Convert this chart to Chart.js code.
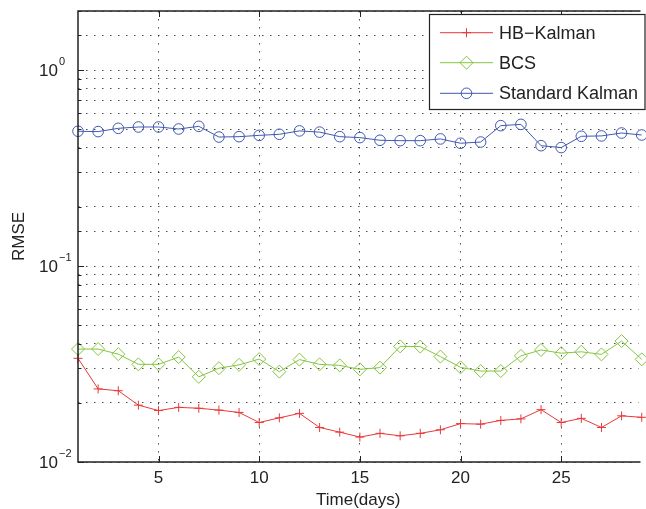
<!DOCTYPE html>
<html><head><meta charset="utf-8">
<script src="https://cdn.jsdelivr.net/npm/chart.js@4/dist/chart.umd.min.js"></script>
<style>html,body{margin:0;padding:0;background:#fff;overflow:hidden}canvas{display:block}</style>
</head><body>
<canvas id="c" width="646" height="509"></canvas>
<script>
const days = [1,2,3,4,5,6,7,8,9,10,11,12,13,14,15,16,17,18,19,20,21,22,23,24,25,26,27,28,29];
const hbKalman = [0.0338,0.0236,0.0231,0.0195,0.0183,0.0190,0.0188,0.0184,0.0179,0.0159,0.0168,0.0177,0.0150,0.0142,0.0134,0.0140,0.0136,0.0140,0.0146,0.0157,0.0156,0.0163,0.0166,0.0185,0.0159,0.0167,0.0150,0.0172,0.0169];
const bcs = [0.0377,0.0377,0.0355,0.0315,0.0315,0.0343,0.0272,0.0301,0.0313,0.0335,0.0289,0.0333,0.0315,0.0311,0.0297,0.0303,0.0389,0.0388,0.0345,0.0304,0.0291,0.0291,0.0348,0.0373,0.0359,0.0365,0.0354,0.0414,0.0334];
const standardKalman = [0.487,0.485,0.504,0.512,0.512,0.500,0.516,0.455,0.457,0.464,0.470,0.489,0.482,0.457,0.452,0.438,0.436,0.436,0.445,0.423,0.429,0.520,0.528,0.411,0.402,0.459,0.461,0.477,0.466];
const seriesNames = ['HB\u2212Kalman','BCS','Standard Kalman'];
const xTickValues = [5,10,15,20,25];
const yDecadeValues = [0.01,0.1,1];
const yDecadeExponents = ['\u22122','\u22121','0'];
const xTitle = 'Time(days)';
const yTitle = 'RMSE';

const FONT = "'Liberation Sans', Arial, Helvetica, sans-serif";
const AXIS = '#222';

function series(name, values, color, style, radius) {
  return {
    label: name,
    data: days.map((d, i) => ({x: d, y: values[i]})),
    borderColor: color, backgroundColor: 'rgba(0,0,0,0)',
    pointBorderColor: color, pointBackgroundColor: 'rgba(0,0,0,0)',
    borderWidth: 1, pointBorderWidth: 1,
    pointStyle: style, pointRadius: radius, pointHoverRadius: radius,
    tension: 0, clip: false
  };
}
const datasets = [
  series(seriesNames[0], hbKalman, '#e8393a', 'cross', 4.5),
  series(seriesNames[1], bcs, '#85c440', 'rectRot', 6.5),
  series(seriesNames[2], standardKalman, '#4058b0', 'circle', 5.3)
];

const decorations = {
  id: 'decorations',
  afterDatasetsDraw(chart) {
    const {ctx, chartArea: a, scales: {x, y}} = chart;
    ctx.save();
    // inward tick marks
    ctx.strokeStyle = AXIS; ctx.lineWidth = 1;
    ctx.beginPath();
    xTickValues.forEach(v => {
      const px = Math.round(x.getPixelForValue(v)) + 0.5;
      ctx.moveTo(px, a.bottom); ctx.lineTo(px, a.bottom - 6);
      ctx.moveTo(px, a.top); ctx.lineTo(px, a.top + 6);
    });
    y.ticks.forEach(t => {
      const py = Math.round(y.getPixelForValue(t.value)) + 0.5;
      const major = yDecadeValues.includes(t.value);
      ctx.moveTo(a.left, py); ctx.lineTo(a.left + (major ? 6 : 3.5), py);
    });
    ctx.stroke();
    // axis box (left, top, bottom)
    ctx.lineWidth = 1.5;
    ctx.beginPath();
    ctx.moveTo(a.right + 2, a.top); ctx.lineTo(a.left, a.top);
    ctx.lineTo(a.left, a.bottom); ctx.lineTo(a.right + 2, a.bottom);
    ctx.stroke();
    // y decade labels with superscripts
    ctx.fillStyle = '#222';
    ctx.textBaseline = 'middle';
    yDecadeValues.forEach((v, i) => {
      const py = y.getPixelForValue(v);
      ctx.font = '17px ' + FONT;
      ctx.textAlign = 'right';
      ctx.fillText('10', 58, py + 1);
      ctx.font = '11px ' + FONT;
      ctx.textAlign = 'left';
      ctx.fillText(yDecadeExponents[i], 59, py - 8);
    });
    // legend
    const L = {x0: 429.5, y0: 14.5, x1: 645, y1: 109.5};
    ctx.fillStyle = '#fff';
    ctx.fillRect(L.x0, L.y0, L.x1 - L.x0, L.y1 - L.y0);
    ctx.strokeStyle = AXIS; ctx.lineWidth = 1.2;
    ctx.strokeRect(L.x0, L.y0, L.x1 - L.x0, L.y1 - L.y0);
    const rows = [32.7, 62.7, 93.3];
    chart.data.datasets.forEach((ds, i) => {
      const ry = rows[i];
      ctx.strokeStyle = ds.borderColor; ctx.lineWidth = 1;
      ctx.beginPath(); ctx.moveTo(440, ry); ctx.lineTo(493, ry); ctx.stroke();
      ctx.fillStyle = 'rgba(0,0,0,0)';
      Chart.helpers.drawPoint(ctx, {pointStyle: ds.pointStyle, radius: ds.pointRadius, borderWidth: 1, rotation: 0}, 466.5, ry);
      ctx.fillStyle = '#222';
      ctx.font = '18px ' + FONT;
      ctx.textAlign = 'left'; ctx.textBaseline = 'middle';
      ctx.fillText(ds.label, 499, ry + 1);
    });
    ctx.restore();
  }
};

const gridStyle = {color: 'rgba(0,0,0,0.7)', lineWidth: 1, drawTicks: false};
const borderStyle = {display: false, dash: [1.5, 6.5]};

new Chart(document.getElementById('c'), {
  type: 'line',
  data: {datasets},
  options: {
    responsive: false, animation: false, maintainAspectRatio: false,
    layout: {padding: {top: 11, right: 0, left: 0, bottom: 0}},
    plugins: {legend: {display: false}, tooltip: {enabled: false}},
    scales: {
      x: {
        type: 'linear', min: 1, max: 28.84,
        afterBuildTicks: s => { s.ticks = xTickValues.map(v => ({value: v})); },
        afterFit: s => { s.height = 47; },
        grid: gridStyle,
        border: borderStyle,
        ticks: {color: '#222', font: {family: FONT, size: 17}, padding: 6, maxRotation: 0},
        title: {display: true, text: xTitle, color: '#222', font: {family: FONT, size: 17, lineHeight: 1}, padding: {top: 0, bottom: 0.5}}
      },
      y: {
        type: 'logarithmic', min: 0.01, max: 2,
        afterFit: s => { s.width = 78; },
        grid: gridStyle,
        border: borderStyle,
        ticks: {display: false},
        title: {display: true, text: yTitle, color: '#222', font: {family: FONT, size: 17, lineHeight: 1}, padding: {top: 11, bottom: 0}}
      }
    }
  },
  plugins: [decorations]
});
</script>
</body></html>
